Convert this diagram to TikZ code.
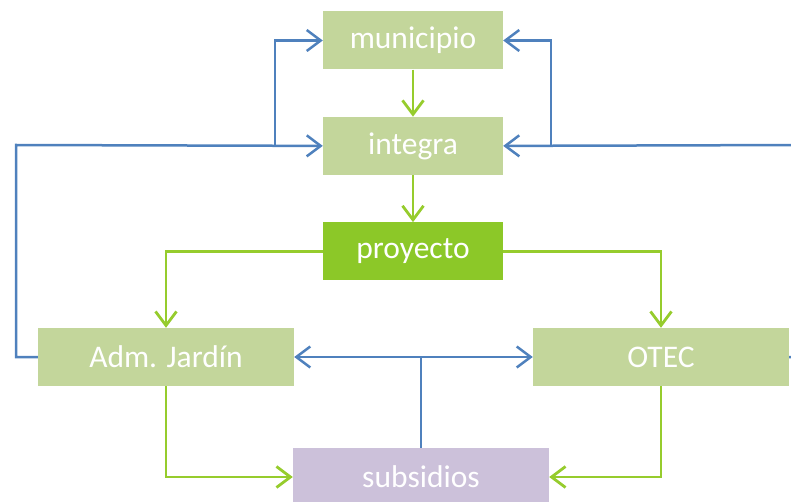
\documentclass[tikz,border=0pt]{standalone}
\usepackage{fontspec}
\setmainfont{Carlito}
\usetikzlibrary{positioning, arrows.meta}
\definecolor{boxgreen}{RGB}{195, 214, 155}
\definecolor{projgreen}{RGB}{140, 200, 40}
\definecolor{linegreen}{RGB}{150, 204, 45}
\definecolor{lineblue}{RGB}{79, 129, 189}
\definecolor{boxlilac}{RGB}{204, 193, 218}
\tikzset{
  actor/.style={rectangle, fill=boxgreen, text=white, minimum width=180pt,
    minimum height=58pt, inner sep=0pt, font=\fontsize{31.5}{36}\selectfont},
  wideactor/.style={actor, minimum width=256pt},
  gflow/.style={-{Straight Barb[length=14pt, width=21pt]}, line width=2.8pt, linegreen},
  bline/.style={line width=2.5pt, lineblue},
  bflow/.style={bline, -{Straight Barb[length=14pt, width=21pt]}},
}
\begin{document}
\begin{tikzpicture}[x=1pt, y=1pt]
    \clip (0,0) rectangle (791,-502);
    \node[actor] (muni) at (413,-40.5) {municipio};
    \node[actor, below=47pt of muni] (integra) {integra};
    \node[actor, fill=projgreen, below=47pt of integra] (proy) {proyecto};
    \node[wideactor] (adm) at (166,-357) {Adm. Jardín};
    \node[wideactor] (otec) at (661,-357) {OTEC};
    \node[wideactor, fill=boxlilac] (subs) at (421,-477) {subsidios};
    % vertical chain
    \draw[gflow] (muni) -- (integra);
    \draw[gflow] (integra) -- (proy);
    \draw[gflow] (proy.west) -| (adm.north);
    \draw[gflow] (proy.east) -| (otec.north);
    \draw[gflow] (adm.south) |- (subs.west);
    \draw[gflow] (otec.south) |- (subs.east);
    % feedback loops
    \coordinate (lcorner) at (16,-145);
    \coordinate (lsplit) at (275,-145);
    \coordinate (rcorner) at (805,-145);
    \coordinate (rsplit) at (551,-145);
    \coordinate (sjoin) at (421,-357);
    \draw[bflow] (adm.west) -| (lcorner) -- (integra.west);
    \draw[bflow] (lsplit) |- (muni.west);
    \draw[bflow] (otec.east) -| (rcorner) -- (integra.east);
    \draw[bflow] (rsplit) |- (muni.east);
    \draw[bline] (subs.north) -- (sjoin);
    \draw[bflow] (sjoin) -- (adm.east);
    \draw[bflow] (sjoin) -- (otec.west);
  \end{tikzpicture}
\end{document}
